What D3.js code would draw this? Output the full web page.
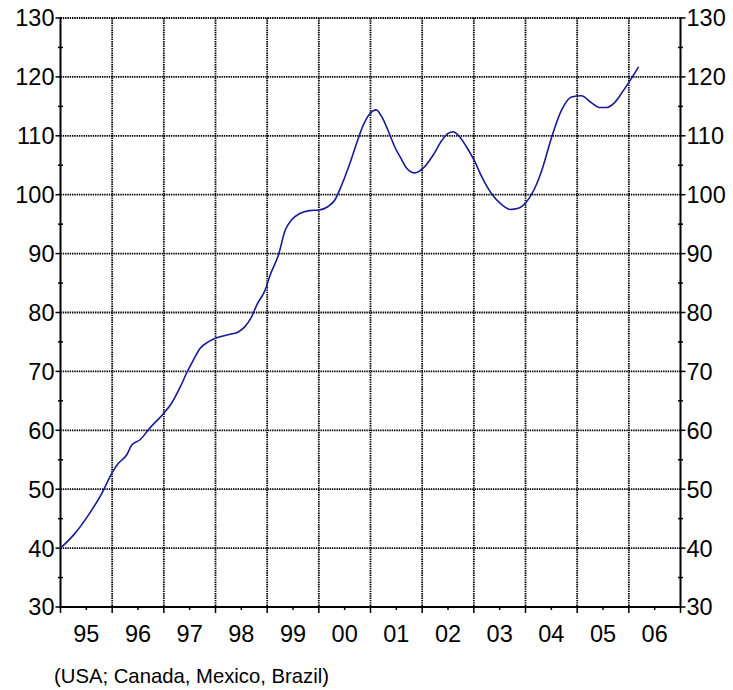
<!DOCTYPE html>
<html><head><meta charset="utf-8">
<script src="https://cdn.jsdelivr.net/npm/d3@7"></script>
<style>body{margin:0;background:#fff}svg{display:block}text{font-family:"Liberation Sans",Arial,sans-serif;fill:#000}</style>
</head><body>
<svg id="c" width="733" height="690"></svg>
<script>
const times = [1995.00,1995.28,1995.54,1995.80,1996.00,1996.12,1996.28,1996.38,1996.54,1996.74,1997.00,1997.15,1997.32,1997.45,1997.57,1997.70,1997.86,1998.02,1998.28,1998.44,1998.57,1998.70,1998.80,1998.96,1999.06,1999.22,1999.35,1999.47,1999.63,1999.82,2000.00,2000.18,2000.31,2000.44,2000.60,2000.73,2000.86,2000.99,2001.11,2001.22,2001.34,2001.47,2001.60,2001.70,2001.86,2002.02,2002.21,2002.38,2002.50,2002.60,2002.70,2002.86,2003.02,2003.15,2003.34,2003.54,2003.70,2003.86,2004.02,2004.22,2004.34,2004.50,2004.70,2004.89,2005.08,2005.28,2005.43,2005.56,2005.72,2005.88,2006.01,2006.19];
const values = [40.0,42.5,45.6,49.3,52.8,54.4,55.8,57.5,58.4,60.5,62.9,64.6,67.4,69.9,71.9,73.9,75.0,75.7,76.3,76.7,77.6,79.3,81.3,83.8,86.4,89.8,94.0,95.7,96.8,97.3,97.4,98.0,99.1,101.6,105.3,108.7,111.8,113.8,114.4,113.2,110.9,108.1,106.0,104.5,103.7,104.5,106.7,109.2,110.4,110.7,110.1,108.1,105.6,103.1,100.2,98.3,97.5,97.7,98.8,101.9,104.8,109.6,114.4,116.6,116.8,115.6,114.8,114.8,115.6,117.5,119.2,121.7];
const yearLabels = ["95","96","97","98","99","00","01","02","03","04","05","06"];
const yTicks = [30,40,50,60,70,80,90,100,110,120,130];
const yMinor = [35,45,55,65,75,85,95,105,115,125];
const caption = "(USA; Canada, Mexico, Brazil)";

const svg = d3.select("#c");
const L = 60.5, R = 680.5, T = 18, B = 607;
const x = d3.scaleLinear().domain([1995, 2007]).range([L, R]);
const y = d3.scaleLinear().domain([30, 130]).range([B, T]);
const yearStarts = d3.range(1995, 2008);
const mids = yearLabels.map((d, i) => 1995.5 + i);

// grid
const grid = svg.append("g").attr("stroke", "#000").attr("stroke-width", 1.8).attr("stroke-dasharray", "1.4,0.9");
grid.selectAll(".h").data(yTicks.filter(v => v > 30)).join("line")
  .attr("x1", L).attr("x2", R).attr("y1", d => y(d)).attr("y2", d => y(d));
grid.selectAll(".v").data(yearStarts.slice(1, -1)).join("line")
  .attr("y1", T).attr("y2", B).attr("x1", d => x(d)).attr("x2", d => x(d));

// axes
const ax = svg.append("g").attr("stroke", "#000").attr("stroke-width", 2);
ax.append("line").attr("x1", L).attr("x2", L).attr("y1", T - 1).attr("y2", B + 1);
ax.append("line").attr("x1", R).attr("x2", R).attr("y1", T - 1).attr("y2", B + 1);
ax.append("line").attr("x1", L).attr("x2", R).attr("y1", B).attr("y2", B);

const tk = svg.append("g").attr("stroke", "#000").attr("stroke-width", 1.5);
tk.selectAll(".lt").data(yTicks).join("line").attr("x1", L - 5).attr("x2", L).attr("y1", d => y(d)).attr("y2", d => y(d));
tk.selectAll(".rt").data(yTicks).join("line").attr("x1", R).attr("x2", R + 5).attr("y1", d => y(d)).attr("y2", d => y(d));
tk.selectAll(".lm").data(yMinor).join("line").attr("x1", L - 2.5).attr("x2", L + 2.5).attr("y1", d => y(d)).attr("y2", d => y(d));
tk.selectAll(".rm").data(yMinor).join("line").attr("x1", R - 2.5).attr("x2", R + 2.5).attr("y1", d => y(d)).attr("y2", d => y(d));
tk.selectAll(".bt").data(yearStarts).join("line").attr("x1", d => x(d)).attr("x2", d => x(d)).attr("y1", B).attr("y2", B + 6);
tk.selectAll(".bm").data(mids).join("line").attr("x1", d => x(d)).attr("x2", d => x(d)).attr("y1", B).attr("y2", B + 3);

// labels
svg.append("g").selectAll("text").data(yTicks).join("text")
  .attr("x", L - 6).attr("y", d => y(d)).attr("dy", "0.36em").attr("text-anchor", "end")
  .attr("font-size", 23.5).text(d => d);
svg.append("g").selectAll("text").data(yTicks).join("text")
  .attr("x", R + 6).attr("y", d => y(d)).attr("dy", "0.36em").attr("text-anchor", "start")
  .attr("font-size", 23.5).text(d => d);
svg.append("g").selectAll("text").data(yearLabels).join("text")
  .attr("x", (d, i) => x(mids[i])).attr("y", 642).attr("text-anchor", "middle")
  .attr("font-size", 23.5).text(d => d);
svg.append("text").attr("x", 54).attr("y", 683).attr("font-size", 20.3).text(caption);

// line
const data = times.map((t, i) => [t, values[i]]);
svg.append("path").datum(data)
  .attr("fill", "none").attr("stroke", "#1a1a96").attr("stroke-width", 1.6)
  .attr("d", d3.line().x(d => x(d[0])).y(d => y(d[1])).curve(d3.curveMonotoneX));
</script>
</body></html>
